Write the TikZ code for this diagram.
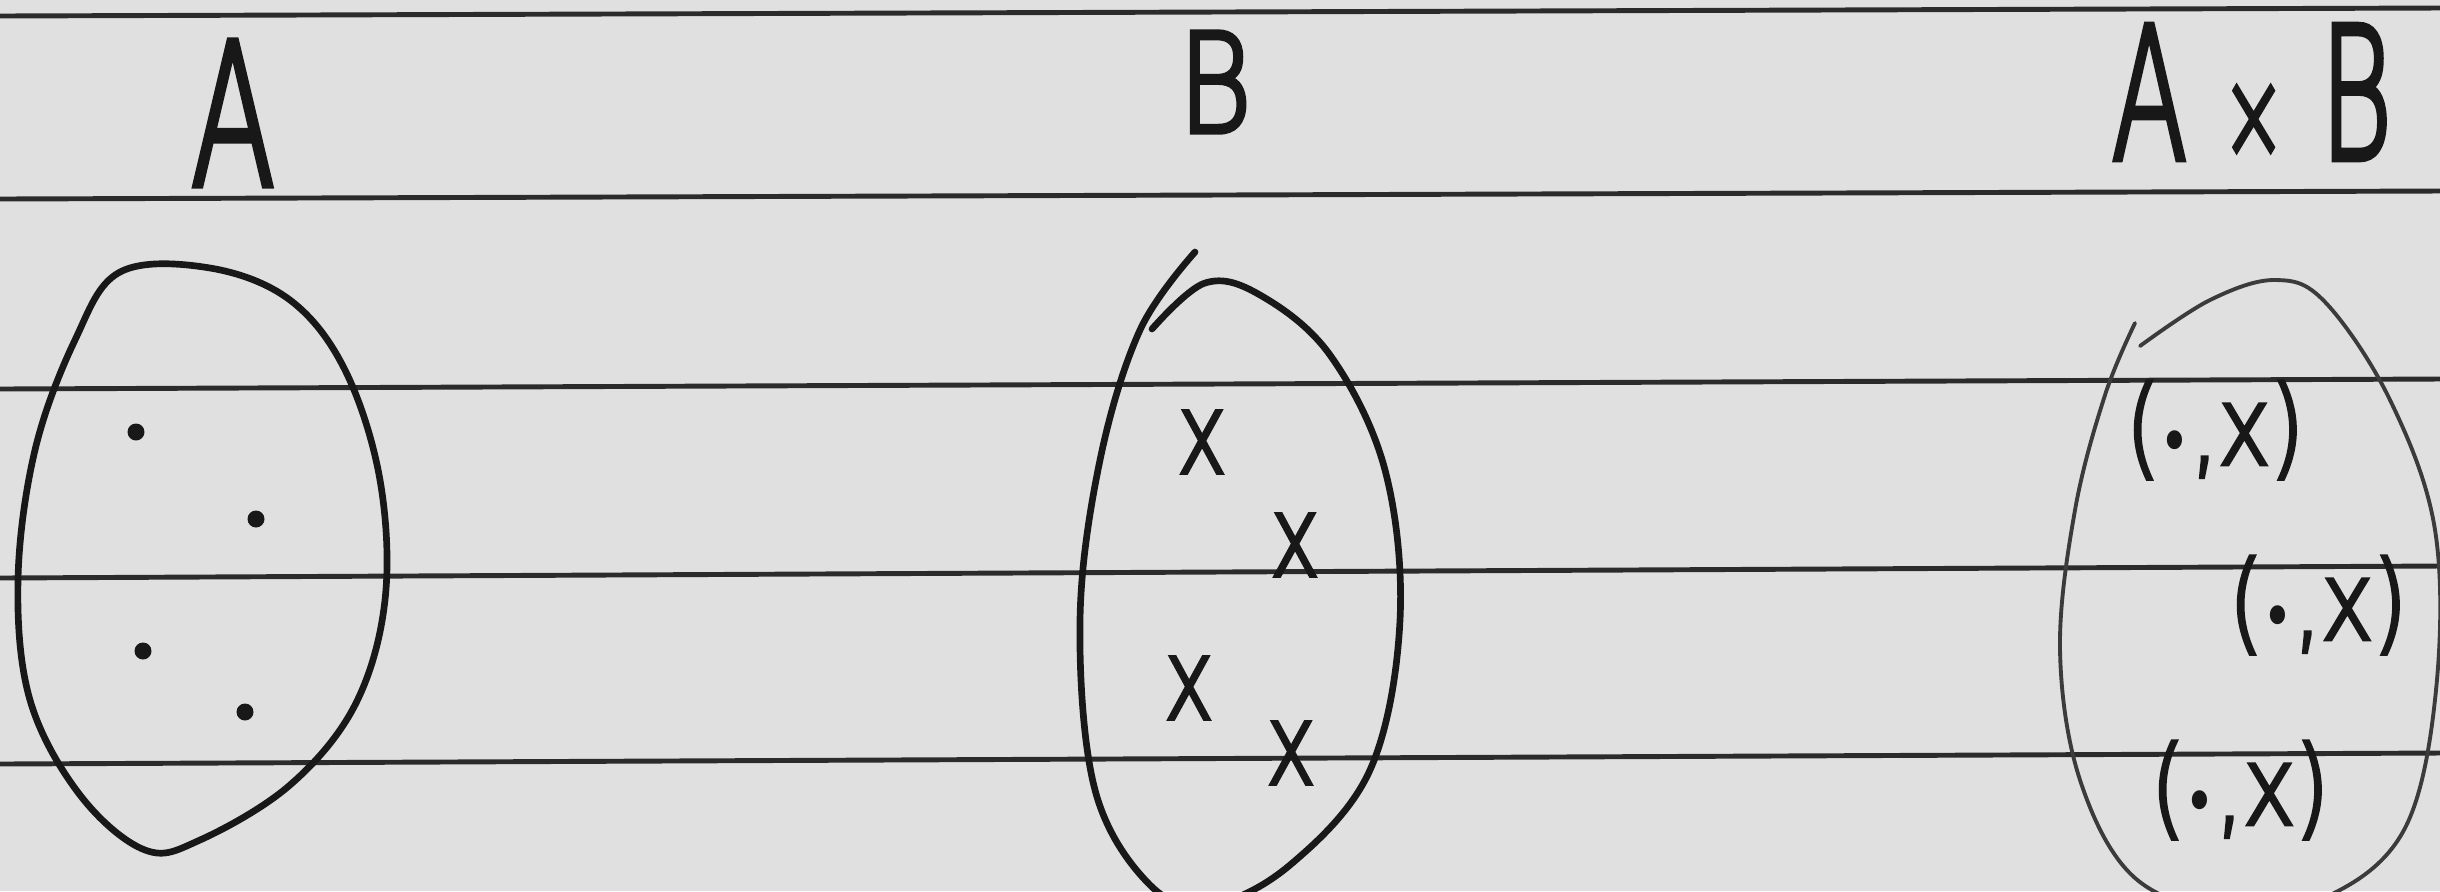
\documentclass[tikz,border=0pt]{standalone}
\usepackage{fontspec}
\setmainfont{Carlito}
\newfontfamily\handfont[FakeBold=4]{DejaVuSans-ExtraLight.ttf}
\newfontfamily\dotfont{DejaVu Sans}
\usepackage{graphicx}
\definecolor{paper}{HTML}{E0E0E0}
\definecolor{ink}{HTML}{181818}
\tikzset{
rule line/.style={line width=1.4pt, ink!92},
set outline/.style={line width=1.9pt, ink, line cap=round, line join=round},
thin outline/.style={line width=1.1pt, ink!85, line cap=round},
%
element dot/.style={circle, fill=ink, inner sep=0, minimum size=.17cm},
element cross/.style={font=\handfont\fontsize{29}{29}\selectfont, inner sep=0pt, text=ink},
pair label/.style={font=\handfont\fontsize{31}{31}\selectfont, inner sep=0pt, text=ink},
set label/.style={inner sep=0pt, text=ink},
}
\newcommand{\pairtext}{\scalebox{.8}[1]{({\dotfont\scalebox{.6}{•}},x)}}

\begin{document}
\begin{tikzpicture}
        \fill[paper] (0,0) rectangle (24.4,-8.91);
        \useasboundingbox (0,0) rectangle (24.4,-8.91);
        \clip (0,0) rectangle (24.4,-8.91);
        % ruled lines of the paper
        \foreach \yl/\yr in {0.16/0.08,1.99/1.91,3.89/3.79,5.78/5.66,7.64/7.53} {
            \draw[rule line] (0,-\yl) -- (24.4,-\yr);
        }
        % set names
        \node[set label, font=\handfont\fontsize{56}{56}\selectfont] (nameA) at (2.33,-1.13) {\scalebox{.62}[1]{A}};
        \node[set label, font=\handfont\fontsize{39}{39}\selectfont] (nameB) at (12.15,-0.82) {\scalebox{.82}[1]{B}};
        \node[set label, font=\handfont\fontsize{52}{52}\selectfont] (nameAB) at (22.52,-0.92)
            {\scalebox{.6}[1]{A {\fontsize{36}{36}\selectfont ×} B}};
        % set A
        \draw[set outline] plot[smooth cycle, tension=.6] coordinates {
            (1.20,-2.72) (2.10,-2.68) (2.90,-3.00) (3.45,-3.70) (3.80,-4.80)
            (3.85,-6.00) (3.55,-7.05) (2.90,-7.85) (2.00,-8.40) (1.45,-8.50)
            (0.80,-7.95) (0.30,-7.00) (0.18,-5.80) (0.35,-4.50) (0.75,-3.40)};
        \foreach \i/\x/\y in {1/1.36/-4.32,2/2.56/-5.19,3/1.43/-6.51,4/2.45/-7.12} {
            \node[element dot] (a\i) at (\x,\y) {};
        }
        % set B
        \draw[set outline] plot[smooth, tension=.6] coordinates {
            (11.95,-2.52) (11.40,-3.30) (11.00,-4.60) (10.80,-6.20) (10.95,-7.90)
            (11.50,-8.85) (12.10,-9.05) (12.90,-8.65) (13.70,-7.70) (14.00,-6.20)
            (13.85,-4.70) (13.30,-3.55) (12.60,-2.95) (12.05,-2.83) (11.52,-3.29)};
        \foreach \i/\x/\y in {1/12.02/-4.42,2/12.95/-5.45,3/11.89/-6.88,4/12.91/-7.53} {
            \node[element cross] (b\i) at (\x,\y) {\scalebox{.8}[1.1]{x}};
        }
        % set A x B
        \draw[thin outline] plot[smooth, tension=.6] coordinates {
            (21.35,-3.23) (21.05,-3.95) (20.75,-5.10) (20.60,-6.50) (20.80,-7.80)
            (21.35,-8.78) (22.30,-9.12) (23.30,-8.95) (24.05,-8.28) (24.36,-6.90)
            (24.35,-5.30) (23.90,-4.00) (23.25,-3.02) (22.75,-2.80) (22.10,-3.00)
            (21.40,-3.46)};
        \node[pair label] (p1) at (22.15,-4.30) {\pairtext};
        \node[pair label] (p2) at (23.18,-6.05) {\pairtext};
        \node[pair label] (p3) at (22.40,-7.90) {\pairtext};
\end{tikzpicture}
\end{document}
